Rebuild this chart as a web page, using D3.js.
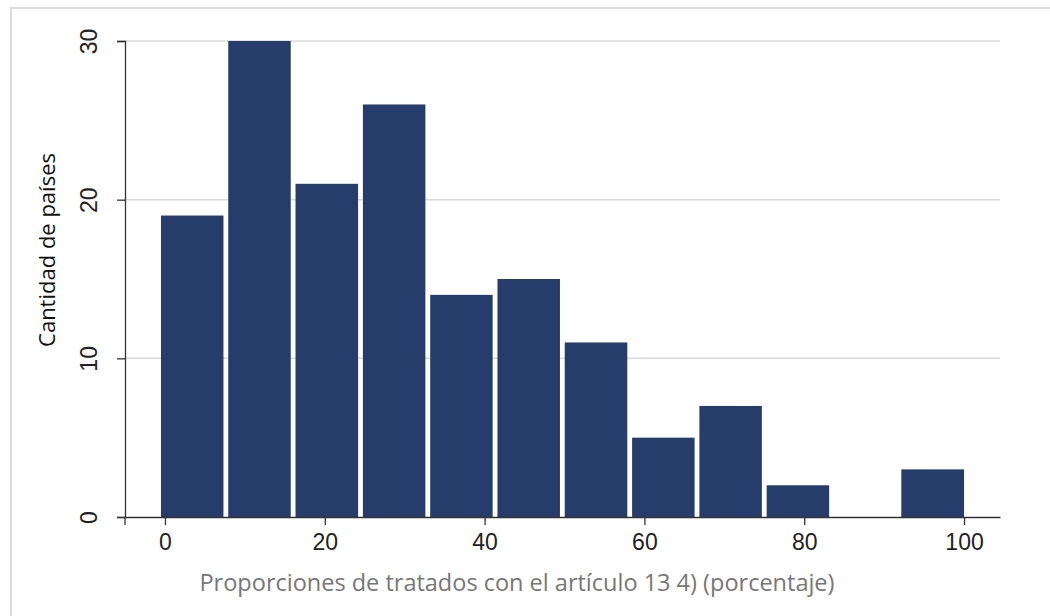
<!DOCTYPE html>
<html lang="es">
<head>
<meta charset="UTF-8">
<script src="https://cdnjs.cloudflare.com/ajax/libs/d3/7.8.5/d3.min.js"></script>
<style>
  body { margin: 0; background: #fff; }
  svg { display: block; font-family: "Open Sans", "Noto Sans", sans-serif; }
</style>
</head>
<body>
<div id="chart"></div>
<script>
// histogram bins (edges in percent) and counts
const binEdges = [-1.1, 7.32, 15.74, 24.17, 32.59, 41.01, 49.43, 57.86, 66.28, 74.7, 83.12, 91.55, 100];
const counts = [19, 30, 21, 26, 14, 15, 11, 5, 7, 2, 0, 3];
const xTicks = [0, 20, 40, 60, 80, 100];
const yTicks = [0, 10, 20, 30];
const xTitle = "Proporciones de tratados con el artículo 13 4) (porcentaje)";
const yTitle = "Cantidad de países";

const width = 1050, height = 616;
const barColor = "#263d6b";

const bins = counts.map((c, i) => ({ x0: binEdges[i], x1: binEdges[i + 1], n: c }));

const x = d3.scaleLinear().domain([-5, 104.5]).range([125, 1000]);
const y = d3.scaleLinear().domain([0, 30]).range([517, 41]);

const svg = d3.select("#chart").append("svg")
    .attr("width", width)
    .attr("height", height);

svg.append("rect").attr("width", width).attr("height", height).attr("fill", "#fff");

// outer frame
svg.append("rect")
    .attr("x", 11).attr("y", 8)
    .attr("width", width + 10).attr("height", height + 10)
    .attr("fill", "none")
    .attr("stroke", "#dcdcdc")
    .attr("stroke-width", 2);

// gridlines
svg.append("g")
    .selectAll("line")
    .data(yTicks.filter(d => d > 0))
    .join("line")
    .attr("x1", x.range()[0]).attr("x2", x.range()[1])
    .attr("y1", d => y(d)).attr("y2", d => y(d))
    .attr("stroke", "#dadada")
    .attr("stroke-width", 1.5);

// bars
const gap = 4.8;
svg.append("g")
    .attr("fill", barColor)
    .selectAll("rect")
    .data(bins.filter(d => d.n > 0))
    .join("rect")
    .attr("x", d => x(d.x0) + gap)
    .attr("width", d => x(d.x1) - x(d.x0) - gap)
    .attr("y", d => y(d.n))
    .attr("height", d => y(0) - y(d.n));

// x axis
svg.append("g")
    .attr("transform", `translate(0,${y(0)})`)
    .call(d3.axisBottom(x).tickValues(xTicks).tickSize(8).tickSizeOuter(0).tickPadding(9))
    .call(g => g.select(".domain").attr("stroke", "#333").attr("stroke-width", 1.3))
    .call(g => g.selectAll(".tick line").attr("stroke", "#333").attr("stroke-width", 1.3))
    .call(g => g.selectAll(".tick text")
        .attr("font-size", 23)
        .attr("fill", "#222"))
    .call(g => g.append("line")
        .attr("x1", x(-5)).attr("x2", x(-5))
        .attr("y1", 0).attr("y2", 8)
        .attr("stroke", "#333").attr("stroke-width", 1.3));

// y axis
svg.append("g")
    .attr("transform", `translate(${x(-5)},0)`)
    .call(d3.axisLeft(y).tickValues(yTicks).tickSize(8).tickSizeOuter(8))
    .call(g => g.select(".domain").attr("stroke", "#333").attr("stroke-width", 1.3))
    .call(g => g.selectAll(".tick line").attr("stroke", "#333").attr("stroke-width", 1.3))
    .call(g => g.selectAll(".tick text")
        .attr("font-size", 23)
        .attr("fill", "#222")
        .attr("x", null).attr("dy", null)
        .attr("text-anchor", "middle")
        .attr("transform", "translate(-28,0) rotate(-90)"));

// axis titles
svg.append("text")
    .attr("x", 517).attr("y", 591)
    .attr("text-anchor", "middle")
    .attr("font-size", 23.5)
    .attr("fill", "#777")
    .text(xTitle);

svg.append("text")
    .attr("transform", `translate(55,250) rotate(-90)`)
    .attr("text-anchor", "middle")
    .attr("font-size", 22)
    .attr("fill", "#111")
    .text(yTitle);
</script>
</body>
</html>
